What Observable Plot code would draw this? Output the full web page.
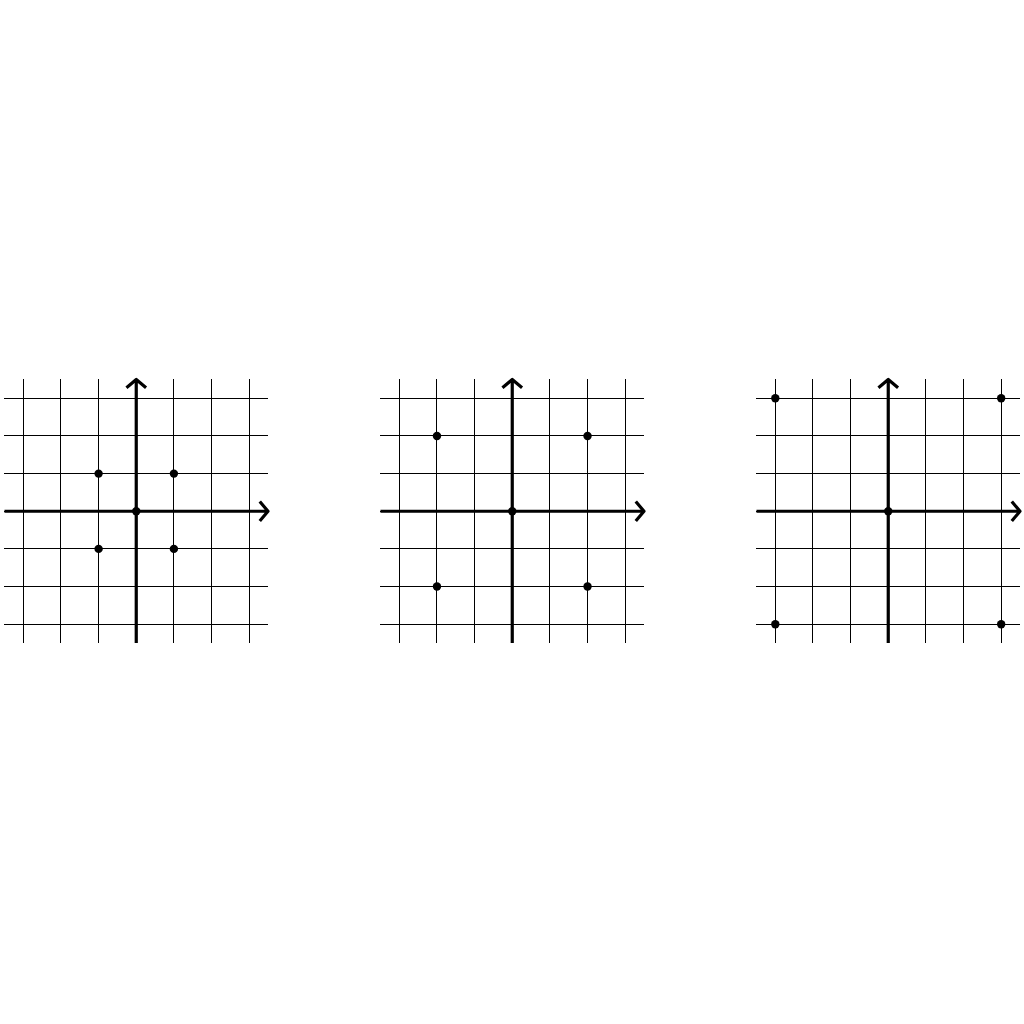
<!DOCTYPE html>
<html>
<head>
<meta charset="utf-8">
<script src="https://cdn.jsdelivr.net/npm/d3@7"></script>
<script src="https://cdn.jsdelivr.net/npm/@observablehq/plot@0.6"></script>
<style>
  html, body { margin: 0; padding: 0; background: #fff; }
  #wrap { position: relative; width: 1024px; height: 1024px; overflow: hidden; }
  .panel { position: absolute; }
  .panel svg { max-width: none !important; display: block; }
</style>
</head>
<body>
<div id="wrap"></div>
<script>
// Grid ticks and axis extent
const gridTicks = [-3, -2, -1, 0, 1, 2, 3];
const axisMin = -3.5;
const axisMax = 3.5;

// Points in each panel
const panel1X = [-1, 1, -1, 1, 0];
const panel1Y = [1, 1, -1, -1, 0];
const panel2X = [-2, 2, -2, 2, 0];
const panel2Y = [2, 2, -2, -2, 0];
const panel3X = [-3, 3, -3, 3, 0];
const panel3Y = [3, 3, -3, -3, 0];

const panels = [
  {xs: panel1X, ys: panel1Y, cx: 135.3},
  {xs: panel2X, ys: panel2Y, cx: 511.6},
  {xs: panel3X, ys: panel3Y, cx: 887.7}
];

const size = 263.5;
const m = 12;
const cy = 511.2;
const wrap = document.getElementById("wrap");

for (const p of panels) {
  const pts = p.xs.map((x, i) => ({x, y: p.ys[i]}));
  const axes = [
    {x1: axisMin, y1: 0, x2: axisMax, y2: 0},
    {x1: 0, y1: axisMin, x2: 0, y2: axisMax}
  ];
  const chart = Plot.plot({
    width: size + 2 * m,
    height: size + 2 * m,
    margin: m,
    style: {background: "transparent", overflow: "visible", maxWidth: "none"},
    x: {domain: [axisMin, axisMax], axis: null},
    y: {domain: [axisMin, axisMax], axis: null},
    marks: [
      Plot.ruleX(gridTicks, {stroke: "black", strokeWidth: 1, shapeRendering: "crispEdges"}),
      Plot.ruleY(gridTicks, {stroke: "black", strokeWidth: 1, shapeRendering: "crispEdges"}),
      Plot.arrow(axes, {x1: "x1", y1: "y1", x2: "x2", y2: "y2", stroke: "black", strokeWidth: 3.2, strokeLinejoin: "round", strokeLinecap: "butt", headLength: 6, headAngle: 100}),
      Plot.dot(pts, {x: "x", y: "y", r: 4.2, fill: "black", stroke: "none"})
    ]
  });
  const div = document.createElement("div");
  div.className = "panel";
  div.style.left = (p.cx - size / 2 - m) + "px";
  div.style.top = (cy - size / 2 - m) + "px";
  div.style.width = (size + 2 * m) + "px";
  div.appendChild(chart);
  wrap.appendChild(div);
}
</script>
</body>
</html>
